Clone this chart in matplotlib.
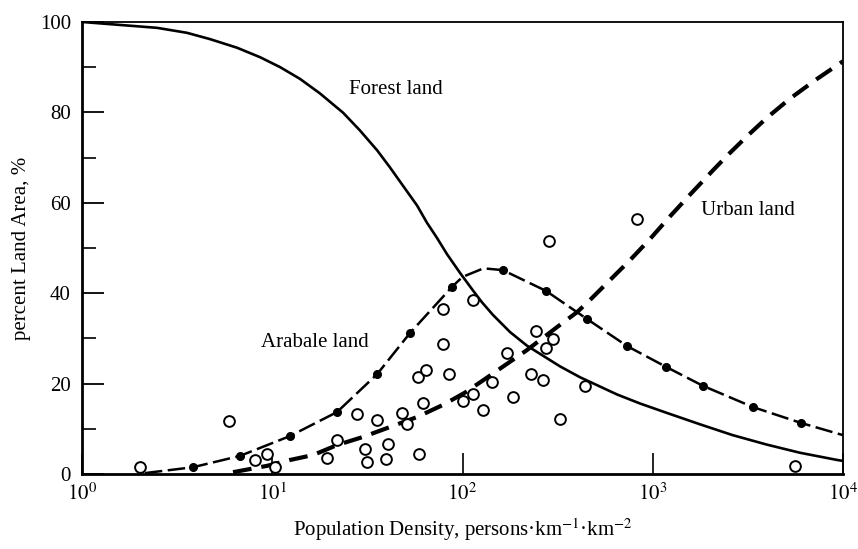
import matplotlib
matplotlib.use("Agg")
import matplotlib.pyplot as plt
from matplotlib.ticker import FixedLocator, NullLocator

plt.rcParams['font.family'] = ['Liberation Serif', 'DejaVu Serif']
plt.rcParams['mathtext.fontset'] = 'stix'

# Forest land (solid)
forest_x = [1, 2.48, 3.56, 4.71, 6.53, 8.63, 11.0, 14.0, 17.8, 23.6, 28.9, 35.6,
            41.6, 48.6, 57.7, 65.0, 73.5, 83.0, 97.0, 113.5, 126.5, 144.5, 177.8,
            218, 325.8, 415, 648.6, 857, 1189, 1770, 2630, 3981, 5943, 9333, 10000]
forest_y = [100, 98.7, 97.6, 96.2, 94.3, 92.2, 90.0, 87.4, 84.2, 79.9, 76.0, 71.6,
            67.8, 63.8, 59.4, 55.6, 52.2, 48.6, 44.5, 40.6, 38.0, 35.2, 31.4,
            28.4, 23.8, 21.4, 17.6, 15.6, 13.5, 11.0, 8.6, 6.5, 4.7, 3.1, 2.9]

# Arable land (dashed with filled dots)
arable_x = [2.14, 3.83, 6.76, 12.4, 21.9, 35.6, 53.0, 88.1, 100, 129, 163, 275,
            451, 733, 1175, 1837, 3365, 6012, 10000]
arable_y = [0.2, 1.5, 4.0, 8.4, 13.7, 22.1, 31.2, 41.4, 43.6, 45.5, 45.1, 40.5,
            34.3, 28.3, 23.7, 19.5, 14.8, 11.3, 8.6]
arable_dots = [1, 2, 3, 4, 5, 6, 7, 10, 11, 12, 13, 14, 15, 16, 17]

# Urban land (thick dashed)
urban_x = [6.22, 9.38, 12.4, 16.4, 21.9, 30.0, 41.6, 57.7, 79.1, 103, 124, 218,
           314, 400, 468, 596, 759, 968, 1233, 1570, 2075, 2512, 3162, 3981,
           5248, 7244, 10000]
urban_y = [0.4, 1.8, 3.1, 4.2, 6.4, 8.2, 10.4, 12.6, 15.3, 18.0, 20.3, 27.4,
           32.5, 35.8, 38.5, 42.9, 47.3, 52.0, 57.0, 61.8, 67.2, 70.8, 74.9, 78.8,
           83.0, 87.3, 91.3]

# Observed points (open circles)
obs_x = [2.02, 5.93, 8.11, 9.38, 10.3, 19.4, 21.9, 27.9, 30.7, 31.5, 35.6, 39.6,
         40.6, 48.1, 51.1, 59.0, 61.9, 58.3, 64.3, 84.9, 79.0, 79.0, 113.5, 100.7,
         113.5, 128.2, 142.9, 171.4, 184.5, 229.3, 264.9, 243.8, 299.2, 274.8,
         285.3, 440.6, 325.8, 825.6, 5598]
obs_y = [1.5, 11.7, 3.1, 4.4, 1.5, 3.5, 7.5, 13.3, 5.5, 2.7, 11.9, 3.3,
         6.6, 13.5, 11.1, 4.4, 15.7, 21.5, 23.0, 22.1, 28.8, 36.5, 38.5, 16.2,
         17.7, 14.2, 20.4, 26.8, 17.0, 22.1, 20.8, 31.6, 29.9, 27.9,
         51.5, 19.5, 12.2, 56.4, 1.8]

x_ticks = [1, 10, 100, 1000, 10000]
x_tick_labels = ['$10^{0}$', '$10^{1}$', '$10^{2}$', '$10^{3}$', '$10^{4}$']
y_ticks = [0, 20, 40, 60, 80, 100]

fig = plt.figure(figsize=(8.58, 5.49), dpi=100)
ax = fig.add_axes([0.0956, 0.1366, 0.8869, 0.8234])

ax.plot(forest_x, forest_y, color='black', lw=1.9, solid_capstyle='round',
        solid_joinstyle='round')
ax.plot(arable_x, arable_y, color='black', lw=1.8, dashes=(7, 2.2),
        marker='o', markersize=5.5, markevery=arable_dots)
ax.plot(urban_x, urban_y, color='black', lw=3.0, dashes=(4.5, 2.4))
ax.scatter(obs_x, obs_y, s=60, facecolors='white', edgecolors='black',
           linewidths=1.4, zorder=5)

ax.set_xscale('log')
ax.set_xlim(1, 10000)
ax.set_ylim(0, 100)

ax.xaxis.set_major_locator(FixedLocator(x_ticks))
ax.xaxis.set_minor_locator(NullLocator())
ax.set_xticklabels(x_tick_labels, fontsize=15)
ax.yaxis.set_major_locator(FixedLocator(y_ticks))
ax.yaxis.set_minor_locator(FixedLocator([10, 30, 50, 70, 90]))
ax.set_yticklabels([str(v) for v in y_ticks], fontsize=15)

ax.tick_params(axis='y', which='major', direction='in', length=16, width=1.3, pad=8)
ax.tick_params(axis='y', which='minor', direction='in', length=10, width=1.2)
ax.tick_params(axis='x', which='major', direction='in', length=15, width=1.2, pad=7)

for sp in ax.spines.values():
    sp.set_linewidth(1.3)
ax.spines['left'].set_linewidth(2.0)
ax.spines['bottom'].set_linewidth(2.0)

ax.set_xlabel('Population Density, persons\u00b7km$^{-1}$\u00b7km$^{-2}$',
              fontsize=15, labelpad=8)
ax.set_ylabel('percent Land Area, %', fontsize=15, labelpad=6)

ax.text(44.7, 85, 'Forest land', fontsize=15, ha='center', va='center')
ax.text(16.8, 29, 'Arabale land', fontsize=15, ha='center', va='center')
ax.text(3160, 58.4, 'Urban land', fontsize=15, ha='center', va='center')

fig.savefig('out.png', dpi=100)
